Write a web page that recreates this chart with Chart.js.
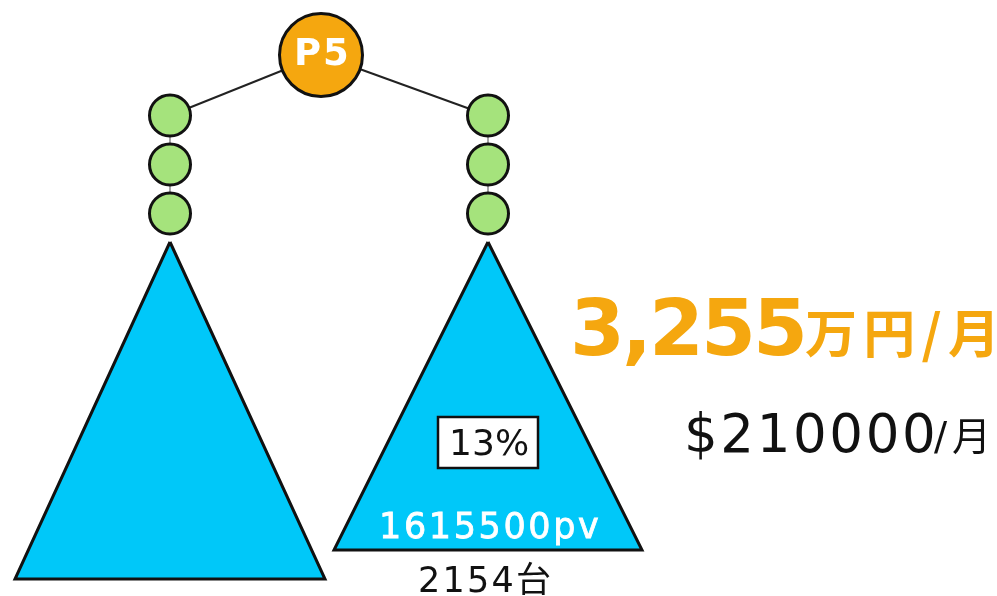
<!DOCTYPE html>
<html><head><meta charset="utf-8">
<script src="https://cdn.jsdelivr.net/npm/chart.js@4/dist/chart.umd.min.js"></script>
<style>html,body{margin:0;padding:0;background:#fff;overflow:hidden}#wrap{width:997px;height:596px}</style>
</head><body><div id="wrap"><canvas id="c" width="997" height="596"></canvas></div>
<script>
// ---------------- data ----------------
const rootLabel = ['P5'];
const branches = ['left', 'right'];
const chainNodes = [1, 2, 3];          // nodes in each branch chain
const shareLabels = ['13%'];
const pageViews = [1615500];
const unitCounts = [2154];
const revenueManYen = [3255];
const revenueUSD = [210000];

// ---------------- layout / style ----------------
const L = {
  root: {x: 321, y: 55, r: 41.5},
  chainX: [170, 488],
  chainY: [115.5, 164.5, 213.5],
  nodeR: 20.5,
  tri: [
    {apex: [170, 242], left: [15, 579], right: [325, 579]},
    {apex: [488, 242], left: [334, 550], right: [642, 550]}
  ]
};
const C = {orange: '#F5A70F', green: '#A5E37C', cyan: '#00C8F9', ink: '#111111'};

// ---------------- datasets ----------------
const datasets = [];
branches.forEach((b, i) => {
  const x = L.chainX[i];
  datasets.push({ // connector root -> chain
    data: [{x: L.root.x, y: L.root.y}, {x: x, y: L.chainY[0]}],
    showLine: true, borderColor: '#222', borderWidth: 2, pointRadius: 0, order: 5, clip: false
  });
  datasets.push({ // thin chain link
    data: chainNodes.map((n, k) => ({x: x, y: L.chainY[k]})),
    showLine: true, borderColor: '#8a8a8a', borderWidth: 1.5, pointRadius: 0, order: 5, clip: false
  });
  const t = L.tri[i];
  datasets.push({ // triangle
    data: [t.apex, t.left, t.right, t.apex].map(p => ({x: p[0], y: p[1]})),
    showLine: true, fill: 'shape', backgroundColor: C.cyan, borderColor: C.ink, borderWidth: 3,
    borderJoinStyle: 'miter', tension: 0, pointRadius: 0, order: 3, clip: false
  });
  datasets.push({ // chain nodes
    data: chainNodes.map((n, k) => ({x: x, y: L.chainY[k]})),
    showLine: false, pointRadius: L.nodeR, pointHoverRadius: L.nodeR,
    pointBackgroundColor: C.green, pointBorderColor: C.ink, pointBorderWidth: 3, pointHoverBorderWidth: 3,
    order: 1, clip: false
  });
});
datasets.push({ // root node
  data: [{x: L.root.x, y: L.root.y}],
  showLine: false, pointRadius: L.root.r, pointHoverRadius: L.root.r,
  pointBackgroundColor: C.orange, pointBorderColor: C.ink, pointBorderWidth: 3, pointHoverBorderWidth: 3,
  order: 1, clip: false
});

// ---------------- text ----------------
function fitText(ctx, text, left, baseline, font, width, color, strokeW) {
  ctx.save();
  ctx.font = font; ctx.fillStyle = color; ctx.strokeStyle = color;
  ctx.textBaseline = 'alphabetic'; ctx.textAlign = 'left';
  const chars = Array.from(text);
  const m = ctx.measureText(text);
  const ink = m.actualBoundingBoxLeft + m.actualBoundingBoxRight;
  const sp = chars.length > 1 ? (width - ink) / (chars.length - 1) : 0;
  let x = left + m.actualBoundingBoxLeft;
  for (const ch of chars) {
    ctx.fillText(ch, x, baseline);
    if (strokeW) { ctx.lineWidth = strokeW; ctx.strokeText(ch, x, baseline); }
    x += ctx.measureText(ch).width + sp;
  }
  ctx.restore();
}
const LAT = '"DejaVu Sans", "Noto Sans CJK JP", sans-serif';
const CJK = '"Noto Sans CJK JP", sans-serif';

const textPlugin = {
  id: 'labels',
  afterDatasetsDraw(chart) {
    const ctx = chart.ctx;
    const sx = v => chart.scales.x.getPixelForValue(v);
    const sy = v => chart.scales.y.getPixelForValue(v);
    // root label
    fitText(ctx, rootLabel[0], sx(297), sy(65), 'bold 37px ' + LAT, 50, '#ffffff');
    // share box
    ctx.save();
    ctx.fillStyle = '#fff'; ctx.strokeStyle = C.ink; ctx.lineWidth = 2.5;
    ctx.fillRect(sx(438), sy(417), 100, 51);
    ctx.strokeRect(sx(438), sy(417), 100, 51);
    ctx.restore();
    fitText(ctx, shareLabels[0], sx(452), sy(455), '36px ' + LAT, 76, C.ink);
    // page views
    fitText(ctx, pageViews[0] + 'pv', sx(382), sy(538), '35px ' + LAT, 216, '#ffffff', 0.8);
    // units
    fitText(ctx, unitCounts[0] + '台', sx(420), sy(592), '35px ' + LAT, 130, C.ink);
    // revenue JPY
    fitText(ctx, revenueManYen[0].toLocaleString('en-US'), sx(575), sy(355), 'bold 79px ' + LAT, 228, C.orange);
    fitText(ctx, '万円/月', sx(805), sy(353), 'bold 52px ' + CJK, 187, C.orange);
    // revenue USD
    fitText(ctx, '$' + revenueUSD[0], sx(688), sy(452), '53px ' + LAT, 245, C.ink);
    fitText(ctx, '/月', sx(934), sy(450), '39px ' + LAT, 51, C.ink);
  }
};

new Chart(document.getElementById('c'), {
  type: 'scatter',
  data: {datasets},
  options: {
    responsive: false, animation: false, events: [],
    layout: {padding: 0, autoPadding: false},
    plugins: {legend: {display: false}, tooltip: {enabled: false}},
    scales: {
      x: {type: 'linear', min: 0, max: 997, display: false},
      y: {type: 'linear', min: 0, max: 596, reverse: true, display: false}
    }
  },
  plugins: [textPlugin]
});
</script>
</body></html>
